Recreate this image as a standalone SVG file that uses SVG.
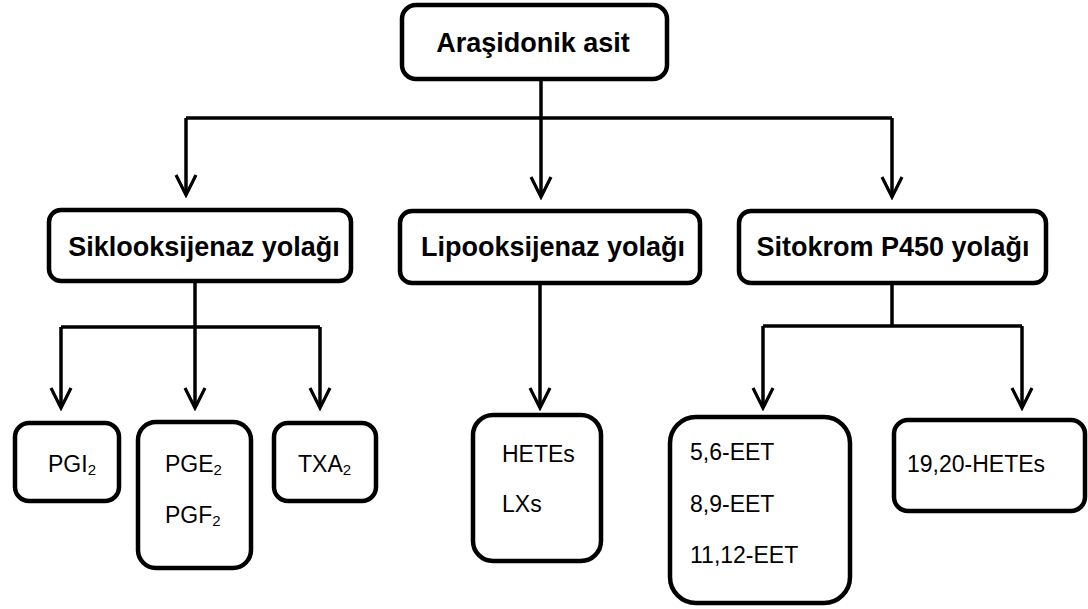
<svg xmlns="http://www.w3.org/2000/svg" width="1088" height="609" viewBox="0 0 1088 609">
<defs>
<marker id="arr" viewBox="-24 -13 27 26" refX="0" refY="0" markerWidth="27" markerHeight="26" markerUnits="userSpaceOnUse" orient="auto">
<path d="M-20,-10 L0,0 L-20,10" fill="none" stroke="#000" stroke-width="3.2" stroke-linejoin="miter"/>
</marker>
<style>
.box{fill:#fff;stroke:#000;stroke-width:4.5}
.ln{fill:none;stroke:#000;stroke-width:3.5}
.ar{marker-end:url(#arr)}
.h{font-family:"Liberation Sans",Arial,sans-serif;font-weight:bold;font-size:27px;fill:#000;text-anchor:middle}
.t{font-family:"Liberation Sans",Arial,sans-serif;font-size:23px;fill:#000}
.sub{font-size:15px}
</style>
</defs>
<rect width="1088" height="609" fill="#fff"/>
<g id="connectors">
<path class="ln ar" d="M541,79 V197"/>
<path class="ln" d="M186,118 H892"/>
<path class="ln ar" d="M186,118 V195"/>
<path class="ln ar" d="M892,118 V197"/>
<path class="ln ar" d="M195,282 V408"/>
<path class="ln" d="M61,327 H320"/>
<path class="ln ar" d="M61,327 V408"/>
<path class="ln ar" d="M320,327 V408"/>
<path class="ln ar" d="M540,285 V408"/>
<path class="ln" d="M892,285 V326"/>
<path class="ln" d="M763,326 H1022"/>
<path class="ln ar" d="M763,326 V408"/>
<path class="ln ar" d="M1022,326 V408"/>
</g>
<g id="arasidonik">
<rect class="box" x="402" y="5" width="265" height="74" rx="14"/>
<text class="h" x="533" y="52">Araşidonik asit</text>
</g>
<g id="siklooksijenaz">
<rect class="box" x="49" y="210" width="302" height="71" rx="12"/>
<text class="h" x="204" y="256">Siklooksijenaz yolağı</text>
</g>
<g id="lipooksijenaz">
<rect class="box" x="400" y="211" width="300" height="72" rx="12"/>
<text class="h" x="553" y="256">Lipooksijenaz yolağı</text>
</g>
<g id="sitokrom">
<rect class="box" x="739" y="211" width="307" height="72" rx="12"/>
<text class="h" x="893" y="256">Sitokrom P450 yolağı</text>
</g>
<g id="pgi2">
<rect class="box" x="15" y="423" width="104" height="78" rx="14"/>
<text class="t" x="48" y="472">PGI<tspan class="sub" dy="3">2</tspan></text>
</g>
<g id="pge2-pgf2">
<rect class="box" x="138" y="422" width="113" height="146" rx="18"/>
<text class="t" x="165" y="472">PGE<tspan class="sub" dy="3">2</tspan></text>
<text class="t" x="165" y="523">PGF<tspan class="sub" dy="3">2</tspan></text>
</g>
<g id="txa2">
<rect class="box" x="274" y="423" width="102" height="78" rx="14"/>
<text class="t" x="298" y="472">TXA<tspan class="sub" dy="3">2</tspan></text>
</g>
<g id="hetes-lxs">
<rect class="box" x="473" y="415" width="128" height="146" rx="20"/>
<text class="t" x="502" y="462">HETEs</text>
<text class="t" x="502" y="512">LXs</text>
</g>
<g id="eet">
<rect class="box" x="670" y="417" width="180" height="186" rx="26"/>
<text class="t" x="690" y="460">5,6-EET</text>
<text class="t" x="690" y="512">8,9-EET</text>
<text class="t" x="690" y="563">11,12-EET</text>
</g>
<g id="hetes-1920">
<rect class="box" x="894" y="420" width="191" height="91" rx="14"/>
<text class="t" x="907" y="472">19,20-HETEs</text>
</g>
</svg>
